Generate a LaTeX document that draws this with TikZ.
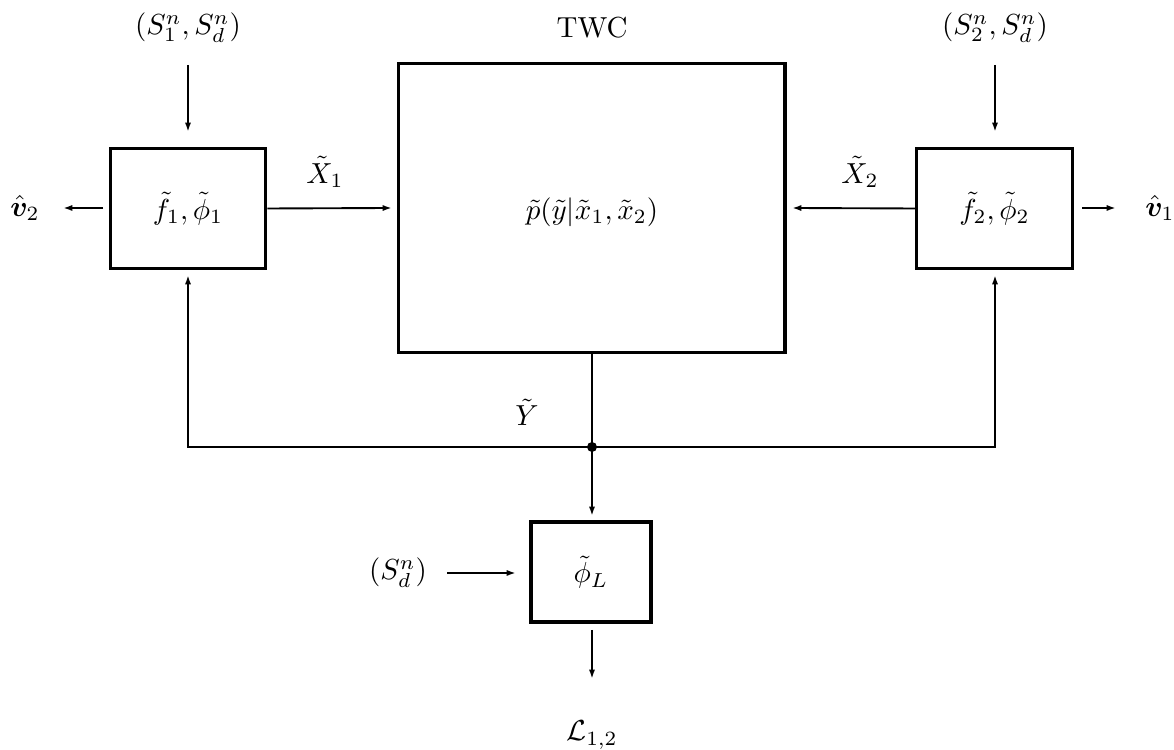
\documentclass[tikz,border=0pt]{standalone}
\usepackage{amsmath}
\usepackage{bm}
\usetikzlibrary{arrows.meta}
\begin{document}
\begin{tikzpicture}[x=0.345pt,y=-0.345pt,
  blk/.style={draw,line width=1.05pt,inner sep=0pt},
  conn/.style={line width=0.65pt},
  arr/.style={conn,-{Latex[length=3.2pt,width=2.1pt]}},
  lbl/.style={inner sep=0pt}]
\path[use as bounding box] (0,0) rectangle (1174,750);
% boxes
\node[blk,minimum width=53.8pt,minimum height=41.1pt] (f1) at (188,208.5) {$\tilde f_1,\tilde\phi_1$};
\node[blk,minimum width=133.5pt,minimum height=100pt] (ch) at (591.5,208) {};
\node[lbl] (pt) at (592,212) {$\tilde p(\tilde y|\tilde x_1,\tilde x_2)$};
\node[blk,minimum width=53.8pt,minimum height=41.1pt] (f2) at (994.5,208.5) {$\tilde f_2,\tilde\phi_2$};
\node[blk,minimum width=41.4pt,minimum height=34.5pt] (fl) at (591,572) {$\tilde\phi_L$};
% labels
\node[lbl] (s1) at (188,28) {$(S_1^n,S_d^n)$};
\node[lbl] (twc) at (592,28) {TWC};
\node[lbl] (s2) at (995,28) {$(S_2^n,S_d^n)$};
\node[lbl] (v2) at (25,208) {$\hat{\bm v}_2$};
\node[lbl] (v1) at (1160,208) {$\hat{\bm v}_1$};
\node[lbl] (x1) at (325,172) {$\tilde X_1$};
\node[lbl] (x2) at (860,172) {$\tilde X_2$};
\node[lbl] (yy) at (527,412) {$\tilde Y$};
\node[lbl] (sd) at (398,573) {$(S_d^n)$};
\node[lbl] (ll) at (592,735) {$\mathcal{L}_{1,2}$};
% coordinates
\coordinate (a1s) at (188,65);
\coordinate (a1e) at (188,132);
\coordinate (a2s) at (995,65);
\coordinate (a2e) at (995,132);
\coordinate (v2s) at (103,208);
\coordinate (v2e) at (63,208);
\coordinate (x1e) at (392,208);
\coordinate (x2e) at (792,208);
\coordinate (v1s) at (1082,208);
\coordinate (v1e) at (1116,208);
\coordinate (jn) at (592,447);
\coordinate (chb) at (592,353);
\coordinate (fle) at (592,516);
\coordinate (lb) at (188,447);
\coordinate (rb) at (995,447);
\coordinate (lbe) at (188,275);
\coordinate (rbe) at (995,275);
\coordinate (sds) at (447,573);
\coordinate (sde) at (516,573);
\coordinate (los) at (592,630);
\coordinate (loe) at (592,679);
% connectors
\draw[arr] (a1s) -- (a1e);
\draw[arr] (a2s) -- (a2e);
\draw[arr] (v2s) -- (v2e);
\draw[arr] (f1.east) -- (x1e);
\draw[arr] (f2.west) -- (x2e);
\draw[arr] (v1s) -- (v1e);
\draw[conn] (chb) -- (jn);
\draw[arr] (jn) -- (fle);
\draw[arr] (jn) -- (rb) -- (rbe);
\draw[arr] (jn) -- (lb) -- (lbe);
\draw[arr] (sds) -- (sde);
\draw[arr] (los) -- (loe);
\fill (jn) circle (5);
\end{tikzpicture}
\end{document}
